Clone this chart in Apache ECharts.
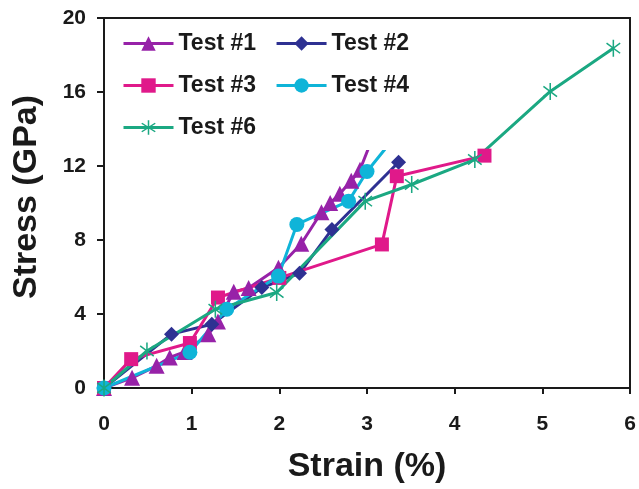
<!DOCTYPE html>
<html>
<head>
<meta charset="utf-8">
<script src="https://cdn.jsdelivr.net/npm/echarts@6/dist/echarts.min.js"></script>
<style>
  html, body { margin: 0; padding: 0; background: #fff; }
  #chart { width: 639px; height: 489px; }
</style>
</head>
<body>
<div id="chart"></div>
<script>
// Stress-strain readings for each tensile test (strain in %, stress in GPa)
var strain1 = [0, 0.32, 0.6, 0.75, 0.92, 1.19, 1.3, 1.48, 1.65, 1.99, 2.25, 2.48, 2.58, 2.69, 2.82, 2.92, 3.02];
var stress1 = [0, 0.55, 1.2, 1.65, 1.95, 2.9, 3.6, 5.2, 5.4, 6.5, 7.8, 9.5, 10.0, 10.5, 11.2, 11.8, 13.0];

var strain2 = [0, 0.77, 1.23, 1.8, 2.23, 2.6, 3.36];
var stress2 = [0, 2.91, 3.45, 5.43, 6.2, 8.57, 12.2];

var strain3 = [0, 0.31, 0.98, 1.3, 2.0, 3.17, 3.34, 4.34];
var stress3 = [0, 1.56, 2.43, 4.89, 5.95, 7.76, 11.45, 12.56];

var strain4 = [0, 0.98, 1.4, 1.99, 2.2, 2.79, 3.0, 3.22];
var stress4 = [0, 1.93, 4.26, 6.05, 8.84, 10.1, 11.7, 13.0];

var strain6 = [0, 0.49, 1.27, 1.97, 2.98, 3.51, 4.23, 5.09, 5.81];
var stress6 = [0, 2.0, 4.26, 5.16, 10.1, 11.0, 12.35, 16.03, 18.37];

var seriesNames = ['Test #1', 'Test #2', 'Test #3', 'Test #4', 'Test #6'];
var xTicks = [0, 1, 2, 3, 4, 5, 6];
var yTicks = [0, 4, 8, 12, 16, 20];

// Asterisk marker: one vertical bar and two diagonal bars
var asterisk = 'path://M9.1 0L10.9 0L10.9 20L9.1 20Z' +
  'M2.54 3.28L18.54 15.28L17.46 16.72L1.46 4.72Z' +
  'M1.46 15.28L17.46 3.28L18.54 4.72L2.54 16.72Z';

var FONT = '"Liberation Sans", Arial, Helvetica, sans-serif';
var INK = '#1a1a1a';

// Pair up x/y readings; the final reading of a run that continues
// beneath the legend box is drawn without a marker.
function pairs(xs, ys, lastBare) {
  return xs.map(function (x, i) {
    var item = { value: [x, ys[i]] };
    if (lastBare && i === xs.length - 1) item.symbol = 'none';
    return item;
  });
}

function lineSeries(name, data, color, symbol, size) {
  return {
    name: name,
    type: 'line',
    data: data,
    symbol: symbol,
    symbolSize: size,
    symbolKeepAspect: true,
    showAllSymbol: true,
    lineStyle: { color: color, width: 3 },
    itemStyle: { color: color, borderWidth: 0 },
    emphasis: { disabled: true },
    animation: false
  };
}

var chart = echarts.init(document.getElementById('chart'), null, { renderer: 'canvas' });

chart.setOption({
  backgroundColor: '#ffffff',
  animation: false,
  grid: {
    left: 104, right: 9, top: 18, bottom: 99,
    show: true, borderColor: INK, borderWidth: 2, backgroundColor: 'transparent'
  },
  legend: {
    data: seriesNames,
    orient: 'horizontal',
    left: 106, top: 20,
    width: 300,
    padding: [12, 12, 11, 16],
    itemWidth: 50, itemHeight: 18,
    itemGap: 19,
    backgroundColor: '#ffffff',
    lineStyle: { width: 3 },
    textStyle: { fontFamily: FONT, fontWeight: 'bold', fontSize: 23, color: INK, lineHeight: 23 }
  },
  xAxis: {
    type: 'value',
    min: xTicks[0], max: xTicks[xTicks.length - 1], interval: 1,
    name: 'Strain (%)',
    nameLocation: 'middle',
    nameGap: 62,
    nameTextStyle: { fontFamily: FONT, fontWeight: 'bold', fontSize: 34, color: INK },
    axisLine: { show: true, onZero: false, lineStyle: { color: INK, width: 2 } },
    axisTick: { show: true, inside: false, length: 6, lineStyle: { color: INK, width: 2 } },
    axisLabel: { fontFamily: FONT, fontWeight: 'bold', fontSize: 21, color: INK, margin: 26 },
    splitLine: { show: false }
  },
  yAxis: {
    type: 'value',
    min: yTicks[0], max: yTicks[yTicks.length - 1], interval: 4,
    name: 'Stress (GPa)',
    nameLocation: 'middle',
    nameRotate: 90,
    nameGap: 60,
    nameTextStyle: { fontFamily: FONT, fontWeight: 'bold', fontSize: 34, color: INK, padding: [0, 0, 0, 12] },
    axisLine: { show: true, onZero: false, lineStyle: { color: INK, width: 2 } },
    axisTick: { show: true, inside: false, length: 7, lineStyle: { color: INK, width: 2 } },
    axisLabel: { fontFamily: FONT, fontWeight: 'bold', fontSize: 21, color: INK, margin: 18 },
    splitLine: { show: false }
  },
  series: [
    lineSeries(seriesNames[0], pairs(strain1, stress1, true), '#9722a8', 'triangle', 16),
    lineSeries(seriesNames[1], pairs(strain2, stress2, false), '#2e3192', 'diamond', 15),
    lineSeries(seriesNames[2], pairs(strain3, stress3, false), '#e0198a', 'rect', 14),
    lineSeries(seriesNames[3], pairs(strain4, stress4, true), '#0fb4d8', 'circle', 15),
    lineSeries(seriesNames[4], pairs(strain6, stress6, false), '#1ba882', asterisk, 17)
  ]
});
</script>
</body>
</html>
